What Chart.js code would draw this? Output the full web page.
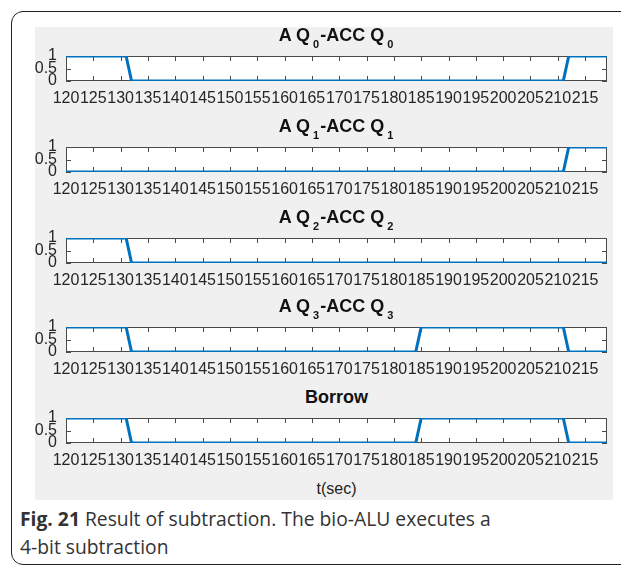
<!DOCTYPE html>
<html>
<head>
<meta charset="utf-8">
<script src="https://cdn.jsdelivr.net/npm/chart.js@4.4.0/dist/chart.umd.min.js"></script>
<style>
  html, body { margin: 0; padding: 0; }
  body { width: 621px; height: 569px; background: #fff; position: relative; overflow: hidden;
         font-family: "Liberation Sans", Arial, sans-serif; }
  #frame { position: absolute; left: 11px; top: 11px; width: 650px; height: 554px;
           border: 1.5px solid #222; border-radius: 12px; box-sizing: border-box; }
  #gray { position: absolute; left: 35px; top: 27px; width: 578px; height: 473px; background: #f0f0f0; }
  .cv { position: absolute; }
  .ttl { position: absolute; left: 66px; width: 541px; text-align: center; font-weight: bold;
         font-size: 18px; line-height: 20px; color: #111; white-space: nowrap; }
  .ttl .sb { font-size: 11px; position: relative; top: 7px; margin-left: 3px; margin-right: 1px; }
  #xlab { position: absolute; left: 66px; width: 541px; top: 479px; text-align: center;
          font-size: 16px; line-height: 20px; color: #222; }
  #cap { position: absolute; left: 20px; top: 505px; width: 590px; font-family: "Open Sans", "Noto Sans", sans-serif;
         font-size: 19.3px; line-height: 28px; color: #333; }
  #cap b { color: #333; }
</style>
</head>
<body>
<div id="frame"></div>
<div id="gray"></div>
<div id="panels"></div>
<div id="xlab">t(sec)</div>
<div id="cap"><b>Fig. 21</b> Result of subtraction. The bio-ALU executes a<br>4-bit subtraction</div>
<script>
// ---- data ----
const timeSec = [120, 131, 132, 184, 185, 211, 212, 219];
const q0Diff  = [1, 1, 0, 0, 0, 0, 1, 1];
const q1Diff  = [0, 0, 0, 0, 0, 0, 1, 1];
const q2Diff  = [1, 1, 0, 0, 0, 0, 0, 0];
const q3Diff  = [1, 1, 0, 0, 1, 1, 0, 0];
const borrow  = [1, 1, 0, 0, 1, 1, 0, 0];
const xTickValues = [120, 125, 130, 135, 140, 145, 150, 155, 160, 165, 170, 175, 180, 185, 190, 195, 200, 205, 210, 215];
const yTickValues = [0, 0.5, 1];
const xMin = 120, xMax = 219;
const panelTitles = [
  'A Q<span class="sb">0</span>-ACC Q<span class="sb">0</span>',
  'A Q<span class="sb">1</span>-ACC Q<span class="sb">1</span>',
  'A Q<span class="sb">2</span>-ACC Q<span class="sb">2</span>',
  'A Q<span class="sb">3</span>-ACC Q<span class="sb">3</span>',
  'Borrow'
];
const panelSeries = [q0Diff, q1Diff, q2Diff, q3Diff, borrow];

// ---- layout ----
const plotTops = [56, 147, 238, 327, 418];
const plotH = 25;
const canvasLeft = 20, plotLeft = 66, plotRight = 607, grayRight = 613;

const boxPlugin = {
  id: 'matlabBox',
  beforeDraw(chart) {
    const a = chart.chartArea, c = chart.ctx;
    c.save(); c.fillStyle = '#ffffff'; c.fillRect(a.left, a.top, a.right - a.left, a.bottom - a.top); c.restore();
  },
  beforeDatasetsDraw(chart) {
    const a = chart.chartArea, c = chart.ctx;
    const xs = chart.scales.x, ys = chart.scales.y;
    c.save();
    c.strokeStyle = '#4a4a4a'; c.lineWidth = 1;
    c.strokeRect(Math.round(a.left) + 0.5, Math.round(a.top) + 0.5, Math.round(a.right - a.left) - 1, Math.round(a.bottom - a.top) - 1);
    const tl = 5;
    c.beginPath();
    xs.ticks.forEach(t => {
      const px = Math.round(xs.getPixelForValue(t.value)) + 0.5;
      c.moveTo(px, a.bottom); c.lineTo(px, a.bottom - tl);
      c.moveTo(px, a.top); c.lineTo(px, a.top + tl);
    });
    ys.ticks.forEach(t => {
      const py = Math.round(ys.getPixelForValue(t.value)) + 0.5;
      c.moveTo(a.left, py); c.lineTo(a.left + tl, py);
      c.moveTo(a.right, py); c.lineTo(a.right - tl, py);
    });
    c.stroke();
    c.restore();
  }
};

const panelsDiv = document.getElementById('panels');
panelSeries.forEach((series, i) => {
  const top = plotTops[i];
  const padTop = 10, axisH = 30;
  const cv = document.createElement('canvas');
  cv.className = 'cv';
  const w = grayRight - canvasLeft, h = padTop + plotH + axisH;
  cv.width = w; cv.height = h;
  cv.style.left = canvasLeft + 'px'; cv.style.top = (top - padTop) + 'px';
  cv.style.width = w + 'px'; cv.style.height = h + 'px';
  panelsDiv.appendChild(cv);

  const t = document.createElement('div');
  t.className = 'ttl';
  t.style.top = (top - 31) + 'px';
  t.innerHTML = panelTitles[i];
  panelsDiv.appendChild(t);

  new Chart(cv.getContext('2d'), {
    type: 'line',
    data: {
      datasets: [{
        data: timeSec.map((x, k) => ({ x: x, y: series[k] })),
        borderColor: '#0072BD', borderWidth: 3, pointRadius: 0, tension: 0, fill: false
      }]
    },
    options: {
      responsive: false, animation: false,
      layout: { autoPadding: false, padding: { top: padTop, right: grayRight - plotRight, left: 0, bottom: 0 } },
      plugins: { legend: { display: false }, tooltip: { enabled: false } },
      scales: {
        x: {
          type: 'linear', min: xMin, max: xMax,
          afterBuildTicks: s => { s.ticks = xTickValues.map(v => ({ value: v })); },
          afterFit: s => { s.height = axisH; s.paddingLeft = 0; s.paddingRight = 0; },
          grid: { display: false, drawTicks: false },
          border: { display: false },
          ticks: { autoSkip: false, maxRotation: 0, minRotation: 0, padding: 8, color: '#262626',
                   font: { family: '"Liberation Sans", Arial, sans-serif', size: 16 },
                   callback: v => String(v) }
        },
        y: {
          min: 0, max: 1,
          afterBuildTicks: s => { s.ticks = yTickValues.map(v => ({ value: v })); },
          afterFit: s => { s.width = plotLeft - canvasLeft; s.paddingTop = 0; s.paddingBottom = 0; },
          grid: { display: false, drawTicks: false },
          border: { display: false },
          ticks: { autoSkip: false, padding: 9, color: '#262626',
                   font: { family: '"Liberation Sans", Arial, sans-serif', size: 16 },
                   callback: v => String(v) }
        }
      }
    },
    plugins: [boxPlugin]
  });
});
</script>
</body>
</html>
